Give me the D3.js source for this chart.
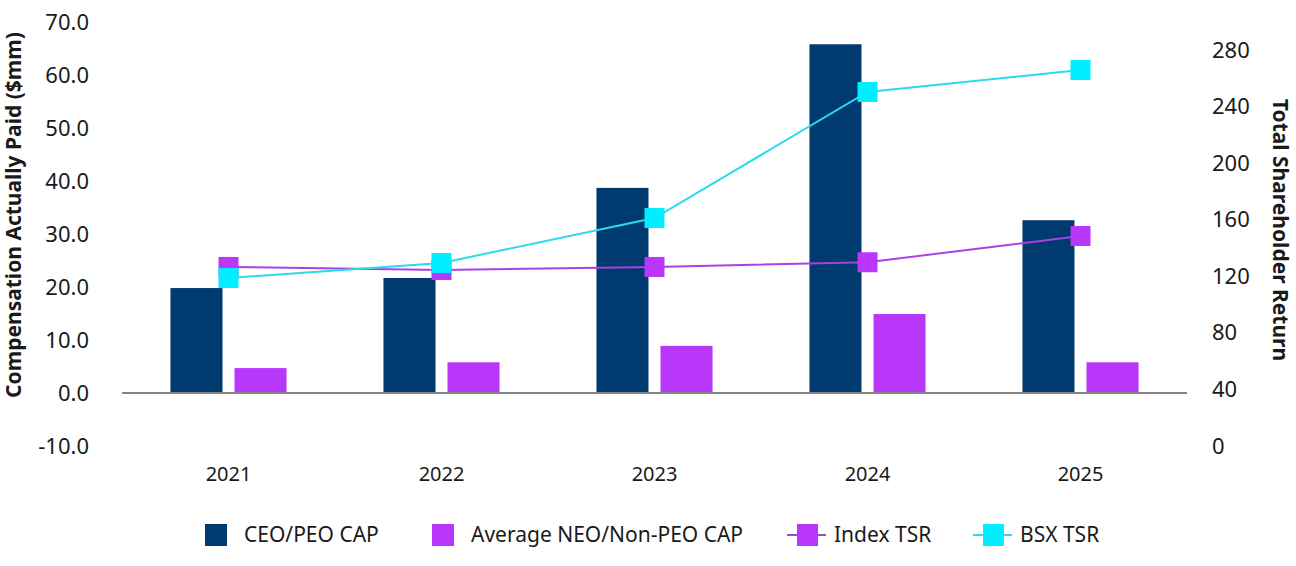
<!DOCTYPE html>
<html>
<head>
<meta charset="utf-8">
<script src="https://cdn.jsdelivr.net/npm/d3@7"></script>
<style>
  body { margin: 0; background: #fff; }
  text { font-family: "Noto Sans", sans-serif; fill: #1a1a1a; }
</style>
</head>
<body>
<div id="chart"></div>
<script>
// Data
var years = ["2021", "2022", "2023", "2024", "2025"];
var ceoCap = [19.8, 21.7, 38.7, 65.8, 32.6];
var neoCap = [4.7, 5.8, 8.9, 14.9, 5.8];
var indexTsr = [126.7, 124.5, 126.7, 130.0, 148.6];
var bsxTsr = [118.9, 129.5, 161.3, 250.5, 266.0];
var leftTicks = [-10, 0, 10, 20, 30, 40, 50, 60, 70];
var rightTicks = [0, 40, 80, 120, 160, 200, 240, 280];

var colors = {ceo: "#003b70", neo: "#b936fb", index: "#b936fb", indexLine: "#a942e6", bsx: "#00eeff", bsxLine: "#2bd9f0"};

var W = 1296, H = 566;
var plot = {left: 122, right: 1187, top: 22, bottom: 446};

var svg = d3.select("#chart").append("svg")
    .attr("width", W)
    .attr("height", H);

// Scales
var x0 = d3.scaleBand().domain(years)
    .range([plot.left, plot.right])
    .paddingInner(0.455).paddingOuter(0.2275);
var x1 = d3.scaleBand().domain(["ceo", "neo"])
    .range([0, x0.bandwidth()])
    .paddingInner(0.1875);
var yL = d3.scaleLinear().domain([-10, 70]).range([plot.bottom, plot.top]);
var yR = d3.scaleLinear().domain([0, 300]).range([plot.bottom, plot.top]);

// Left axis (plain hyphen for negatives, like the original)
var fmt = function(d) { return d3.format(".1f")(d).replace("\u2212", "-"); };
var leftAxis = svg.append("g")
    .attr("transform", "translate(" + 89 + ",0)")
    .call(d3.axisLeft(yL).tickValues(leftTicks).tickFormat(fmt).tickSize(0).tickPadding(0));
leftAxis.select(".domain").remove();
leftAxis.selectAll("text").style("font-size", "22px").attr("fill", "#1a1a1a")
    .style("font-family", "'Noto Sans', sans-serif");

// Right axis
var rightAxis = svg.append("g")
    .attr("transform", "translate(" + 1212 + ",0)")
    .call(d3.axisRight(yR).tickValues(rightTicks).tickSize(0).tickPadding(0));
rightAxis.select(".domain").remove();
rightAxis.selectAll("text").style("font-size", "22px").attr("fill", "#1a1a1a")
    .style("font-family", "'Noto Sans', sans-serif");

// X axis labels
var xAxis = svg.append("g")
    .attr("transform", "translate(0," + 467 + ")")
    .call(d3.axisBottom(x0).tickSize(0).tickPadding(0));
xAxis.select(".domain").remove();
xAxis.selectAll("text").style("font-size", "20px").attr("fill", "#1a1a1a")
    .style("font-family", "'Noto Sans', sans-serif");

// Axis titles
svg.append("text")
    .attr("transform", "translate(21," + 215 + ") rotate(-90)")
    .attr("text-anchor", "middle")
    .style("font-size", "21px")
    .style("font-weight", "bold")
    .text("Compensation Actually Paid ($mm)");

svg.append("text")
    .attr("transform", "translate(1273," + 230 + ") rotate(90)")
    .attr("text-anchor", "middle")
    .style("font-size", "21px")
    .style("font-weight", "bold")
    .text("Total Shareholder Return");

// Bars
var groups = svg.append("g").selectAll("g")
    .data(years)
    .enter().append("g")
    .attr("transform", function(d) { return "translate(" + x0(d) + ",0)"; });

groups.append("rect")
    .attr("x", x1("ceo"))
    .attr("width", x1.bandwidth())
    .attr("y", function(d, i) { return yL(ceoCap[i]); })
    .attr("height", function(d, i) { return yL(0) - yL(ceoCap[i]); })
    .attr("fill", colors.ceo);

groups.append("rect")
    .attr("x", x1("neo"))
    .attr("width", x1.bandwidth())
    .attr("y", function(d, i) { return yL(neoCap[i]); })
    .attr("height", function(d, i) { return yL(0) - yL(neoCap[i]); })
    .attr("fill", colors.neo);

// Zero line
svg.append("line")
    .attr("x1", plot.left).attr("x2", plot.right)
    .attr("y1", yL(0)).attr("y2", yL(0))
    .attr("stroke", "#858585")
    .attr("stroke-width", 2);

// TSR lines
var cx = function(d, i) { return x0(years[i]) + x0.bandwidth() / 2; };
var line = d3.line().x(cx).y(function(d) { return yR(d); });

function drawSeries(vals, lineColor, markColor) {
    svg.append("path")
        .datum(vals)
        .attr("d", line)
        .attr("fill", "none")
        .attr("stroke", lineColor)
        .attr("stroke-width", 2);
    svg.append("g").selectAll("rect")
        .data(vals)
        .enter().append("rect")
        .attr("x", function(d, i) { return cx(d, i) - 10; })
        .attr("y", function(d) { return yR(d) - 10; })
        .attr("width", 20)
        .attr("height", 20)
        .attr("fill", markColor);
}
drawSeries(indexTsr, colors.indexLine, colors.index);
drawSeries(bsxTsr, colors.bsxLine, colors.bsx);

// Legend
var legY = 535;
var legend = [
    {label: "CEO/PEO CAP", type: "bar", color: colors.ceo, x: 205},
    {label: "Average NEO/Non-PEO CAP", type: "bar", color: colors.neo, x: 432},
    {label: "Index TSR", type: "line", color: colors.index, lineColor: colors.indexLine, x: 787},
    {label: "BSX TSR", type: "line", color: colors.bsx, lineColor: colors.bsxLine, x: 973}
];

legend.forEach(function(l) {
    var g = svg.append("g").attr("transform", "translate(" + l.x + "," + legY + ")");
    if (l.type == "bar") {
        g.append("rect").attr("x", 0).attr("y", -11).attr("width", 22).attr("height", 22).attr("fill", l.color);
        g.append("text").attr("x", 39).attr("y", 7).style("font-size", "21px").text(l.label);
    } else {
        g.append("line").attr("x1", 0).attr("x2", 39).attr("y1", 0).attr("y2", 0)
            .attr("stroke", l.lineColor).attr("stroke-width", 2);
        g.append("rect").attr("x", 10).attr("y", -11).attr("width", 21).attr("height", 22).attr("fill", l.color);
        g.append("text").attr("x", 47).attr("y", 7).style("font-size", "21px").text(l.label);
    }
});
</script>
</body>
</html>
